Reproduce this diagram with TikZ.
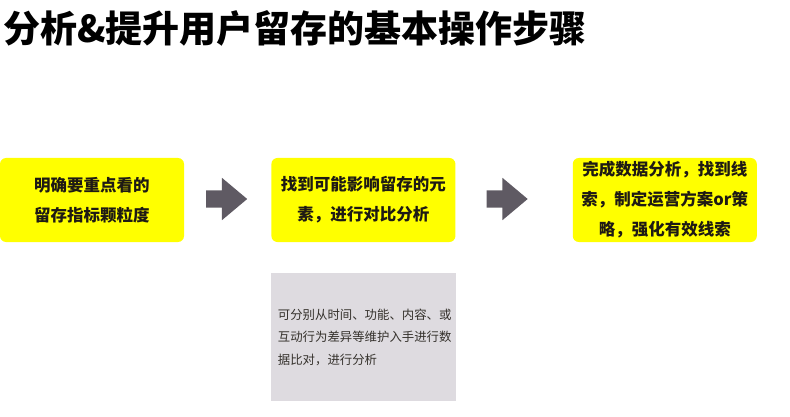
\documentclass[tikz,border=0pt]{standalone}
\usepackage{fontspec}
\setmainfont{Noto Sans CJK SC}
\usepackage{xcolor}
\usepackage{tikz}
\usetikzlibrary{shapes.arrows,positioning}

\definecolor{stepyellow}{HTML}{FFFF00}
\definecolor{notegray}{HTML}{DEDBE0}
\definecolor{arrowgray}{HTML}{5F5A63}
\definecolor{textdark}{HTML}{1E1A14}

\begin{document}
\begin{tikzpicture}[
  x=1pt, y=-1pt,
  node distance=87pt and 87pt,
  stepbox/.style={fill=stepyellow, rounded corners=6pt, minimum width=184pt, minimum height=84pt, align=center, inner sep=0pt, text=textdark, font=\fontsize{16.5}{30}\selectfont\bfseries},
  notebox/.style={fill=notegray, minimum width=185pt, minimum height=128pt, text width=171pt, align=left, inner sep=7pt, text=textdark!90, font=\fontsize{12.4}{22.5}\selectfont},
  blockarr/.style={single arrow, fill=arrowgray, minimum height=41pt, inner sep=8.5pt, single arrow head extend=12.5pt, single arrow tip angle=80, shape border rotate=0}
]
  \useasboundingbox (0,0) rectangle (790,417);
  \node[anchor=west, inner sep=0pt, font=\fontsize{37}{37}\selectfont\bfseries] (title) at (3,28) {分析\&提升用户留存的基本操作步骤};
  \node[stepbox] (target) at (92,200) {明确要重点看的\\留存指标颗粒度};
  \node[stepbox, right=of target] (factor) {找到可能影响留存的元\\素，进行对比分析};
  \node[stepbox, right=117pt of factor] (plan) {完成数据分析，找到线\\索，制定运营方案or策\\略，强化有效线索};
  \node[notebox, below=31pt of factor] (hint) {可分别从时间、功能、内容、或\\互动行为差异等维护入手进行数\\据比对，进行分析};
  \node[blockarr] (go1) at (221.5,199) {};
  \node[blockarr] (go2) at (502,199) {};
\end{tikzpicture}
\end{document}
